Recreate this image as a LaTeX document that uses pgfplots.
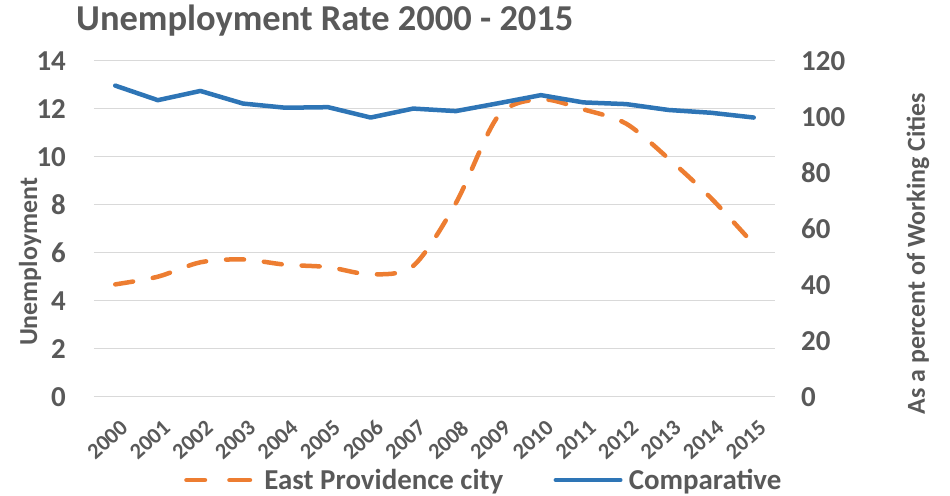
\documentclass[border=0pt]{standalone}
\usepackage{pgfplots}
\usepackage{pgfplotstable}
\pgfplotsset{compat=1.18}
\usepackage{fontspec}
\setmainfont{Carlito}
\definecolor{txtgray}{HTML}{595959}
\definecolor{gridgray}{HTML}{D9D9D9}
\definecolor{eporange}{HTML}{ED7D31}
\definecolor{compblue}{HTML}{2E75B6}

\pgfplotstableread{
x orange
0 4.68
1 5.00
2 5.60
3 5.72
4 5.50
5 5.40
6 5.10
7 5.45
8 8.06
9 11.70
10 12.39
11 11.97
12 11.38
13 9.92
14 8.27
15 6.35
}\eptable

\pgfplotstableread{
x blue
0 111.1
1 105.9
2 109.2
3 104.7
4 103.2
5 103.4
6 99.7
7 102.9
8 102.0
9 104.8
10 107.7
11 105.1
12 104.5
13 102.4
14 101.4
15 99.7
}\comptable

\begin{document}
\begin{tikzpicture}
\useasboundingbox (-94bp,-99.3bp) rectangle (856bp,396.7bp);
\begin{axis}[
  at={(0,0)}, anchor=south west,
  width=681bp, height=336bp, scale only axis,
  xmin=-0.5, xmax=15.5, ymin=0, ymax=14,
  xtick={0,...,15},
  xticklabels={2000,2001,2002,2003,2004,2005,2006,2007,2008,2009,2010,2011,2012,2013,2014,2015},
  ytick={0,2,...,14},
  axis line style={draw=none}, tick style={draw=none}, major tick length=0pt,
  ymajorgrids, grid style={gridgray, line width=1.3bp},
  /pgf/number format/assume math mode=true,
  yticklabel style={font=\fontsize{29}{29}\selectfont\bfseries, text=txtgray, anchor=east, inner sep=0pt, xshift=-28bp},
  xticklabel style={font=\fontsize{22.5}{22.5}\selectfont\bfseries, text=txtgray, inner sep=0pt, xshift=4bp, yshift=-22bp, rotate=42, anchor=north east},
  ylabel={Unemployment},
  every axis y label/.style={at={(rel axis cs:-0.094,0.401)}, rotate=90, anchor=center, font=\fontsize{26}{26}\selectfont\bfseries, text=txtgray},
  clip=false,
]
\addplot[eporange, line width=4.5bp, dash pattern=on 18bp off 20bp, line cap=round, line join=round, smooth] table[x=x,y=orange]{\eptable};
\end{axis}
\begin{axis}[
  at={(0,0)}, anchor=south west,
  width=681bp, height=336bp, scale only axis,
  xmin=-0.5, xmax=15.5, ymin=0, ymax=120,
  ytick={0,20,...,120},
  hide x axis,
  axis line style={draw=none}, tick style={draw=none}, major tick length=0pt,
  yticklabel pos=right,
  /pgf/number format/assume math mode=true,
  yticklabel style={font=\fontsize{29}{29}\selectfont\bfseries, text=txtgray, anchor=west, inner sep=0pt, xshift=26bp},
  ylabel={As a percent of Working Cities},
  every axis y label/.style={at={(rel axis cs:1.210,0.426)}, rotate=90, anchor=center, font=\fontsize{26}{26}\selectfont\bfseries, text=txtgray},
  clip=false,
  legend columns=2,
  legend cell align=left,
  legend style={at={(rel axis cs:0.1292,-0.248)}, anchor=west, draw=none, fill=none, inner sep=0pt, outer sep=0pt,
    font=\fontsize{29}{29}\selectfont\bfseries, text=txtgray,
    nodes={inner sep=0pt},
    column sep=0pt,
    /tikz/column 1/.style={column sep=10bp},
    /tikz/column 2/.style={column sep=48bp},
    /tikz/column 3/.style={column sep=4bp}},
]
\addlegendimage{eporange, line width=4.5bp, line cap=round,
  legend image code/.code={\draw[eporange, line width=4.5bp, line cap=round] (2.25bp,0bp) -- (20.75bp,0bp) (45.25bp,0bp) -- (65.75bp,0bp); \path (0bp,0bp) (68bp,0bp);}}
\addlegendentry{East Providence city}
\addplot[compblue, line width=4.5bp, line cap=round, line join=round,
  legend image code/.code={\draw[compblue, line width=4.5bp, line cap=round] (2.25bp,0bp) -- (66.75bp,0bp); \path (0bp,0bp) (69bp,0bp);}] table[x=x,y=blue]{\comptable};
\addlegendentry{Comparative}
\end{axis}
\node[anchor=base west, inner sep=0pt, font=\fontsize{36.6}{36.6}\selectfont\bfseries, text=txtgray] at (-18bp,365.7bp) {Unemployment Rate 2000 - 2015};
\end{tikzpicture}
\end{document}
